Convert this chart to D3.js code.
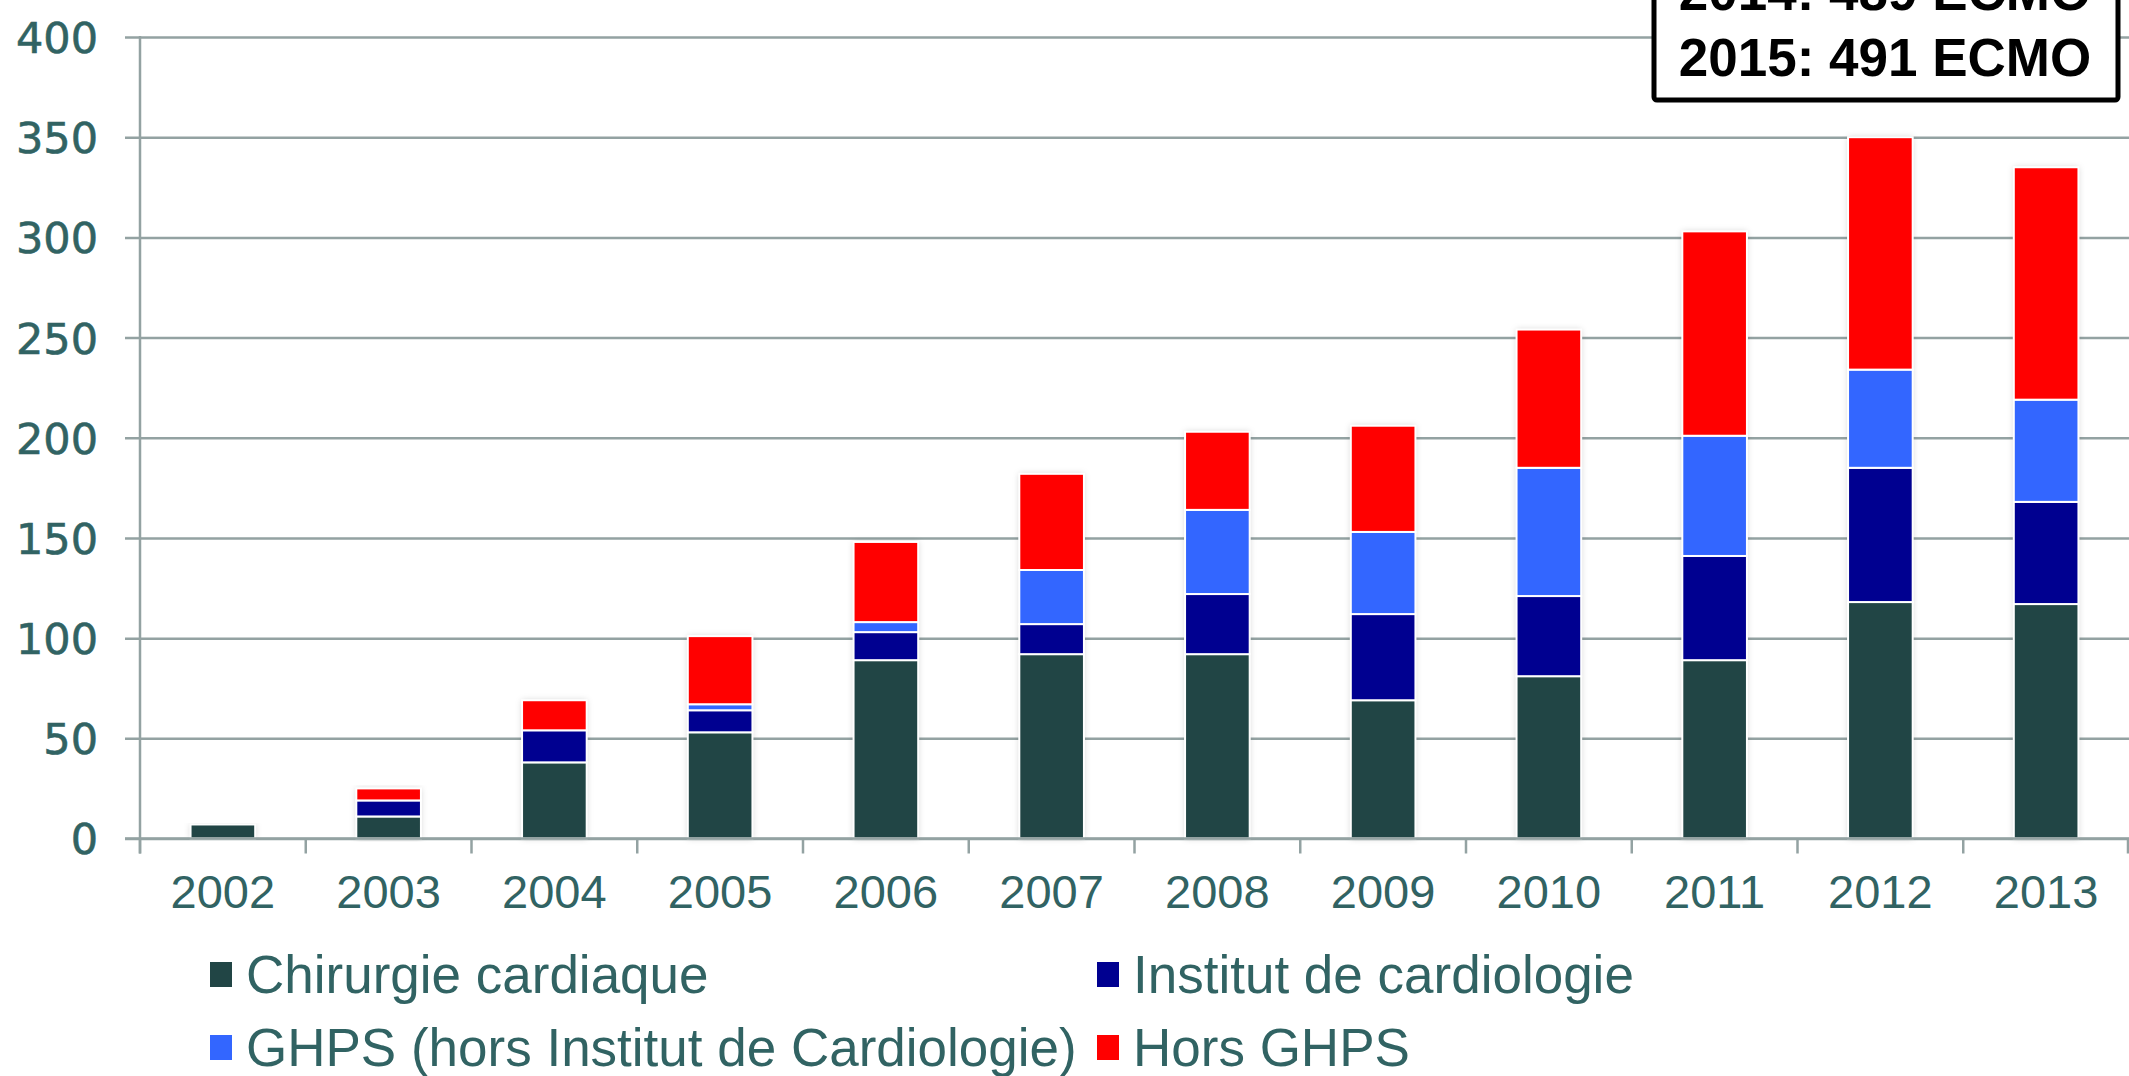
<!DOCTYPE html>
<html>
<head>
<meta charset="utf-8">
<script src="https://cdn.jsdelivr.net/npm/d3@7"></script>
<style>
  html, body { margin: 0; padding: 0; background: #fff; overflow: hidden; }
  svg { display: block; }
</style>
</head>
<body>
<svg id="chart" width="2129" height="1076"></svg>
<script>
// ---- data ----
const years = ["2002","2003","2004","2005","2006","2007","2008","2009","2010","2011","2012","2013"];
const chirurgie = [7, 11, 38, 53, 89, 92, 92, 69, 81, 89, 118, 117];
const institut  = [0, 8, 16, 11, 14, 15, 30, 43, 40, 52, 67, 51];
const ghps      = [0, 0, 0, 3, 5, 27, 42, 41, 64, 60, 49, 51];
const horsGhps  = [0, 6, 15, 34, 40, 48, 39, 53, 69, 102, 116, 116];
const seriesNames = ["Chirurgie cardiaque", "Institut de cardiologie", "GHPS (hors Institut de Cardiologie)", "Hors GHPS"];
const seriesColors = ["#214545", "#000090", "#3366ff", "#ff0000"];
const yTicks = [0, 50, 100, 150, 200, 250, 300, 350, 400];
const boxLines = ["2014: 489 ECMO", "2015: 491 ECMO"];

(function () {
// ---- layout ----
const svg = d3.select("#chart");
const mLeft = 140, mRight = 2129, mTop = 37, mBottom = 838.5;
const textColor = "#316363";
const gridColor = "#93a2a2";

const x = d3.scaleBand().domain(years).range([mLeft, mRight]).paddingInner(0.61).paddingOuter(0.305);
const xb = d3.scaleBand().domain(years).range([mLeft, mRight]).padding(0);
const y = d3.scaleLinear().domain([0, 400]).range([mBottom, mTop]);

const defs = svg.append("defs");
const f = defs.append("filter").attr("id", "shadow").attr("x", "-20%").attr("y", "-5%").attr("width", "140%").attr("height", "110%");
f.append("feDropShadow").attr("dx", 0).attr("dy", 0).attr("stdDeviation", 3).attr("flood-color", "#000").attr("flood-opacity", 0.18);

// gridlines + y axis
const yAxis = d3.axisLeft(y).tickValues(yTicks).tickSize(-(mRight - mLeft)).tickPadding(0).tickFormat(d3.format("d"));
const gy = svg.append("g").attr("transform", `translate(${mLeft},0)`).call(yAxis);
gy.select(".domain").remove();
gy.selectAll(".tick line").attr("x1", -15).attr("stroke", gridColor).attr("stroke-width", 2.5);
gy.selectAll(".tick text")
  .attr("x", -42).attr("dy", "0.36em")
  .attr("fill", textColor)
  .style("font-family", "'DejaVu Sans', Verdana, sans-serif")
  .style("font-size", "43px")
  .style("font-weight", "500")
  .attr("stroke", textColor).attr("stroke-width", 0.6);

// vertical axis line
svg.append("line").attr("x1", mLeft).attr("x2", mLeft).attr("y1", mTop - 1).attr("y2", mBottom + 15)
  .attr("stroke", gridColor).attr("stroke-width", 2.5);

// x axis
const xAxis = d3.axisBottom(xb).tickSize(0).tickPadding(0);
const gx = svg.append("g").attr("transform", `translate(0,${mBottom})`).call(xAxis);
gx.select(".domain").remove();
gx.selectAll(".tick text")
  .attr("y", 57).attr("dy", 0)
  .attr("fill", textColor)
  .style("font-family", "'Liberation Sans', Arial, sans-serif")
  .style("font-size", "47px")
  .attr("dominant-baseline", "middle");
// ticks at band boundaries
const bounds = years.map(d => xb(d)).concat([mRight - 1]);
svg.append("g").selectAll("line").data(bounds).join("line")
  .attr("x1", d => d).attr("x2", d => d)
  .attr("y1", mBottom).attr("y2", mBottom + 15)
  .attr("stroke", gridColor).attr("stroke-width", 2.5);

// stacked bars
const rows = years.map((yr, i) => ({ year: yr, s0: chirurgie[i], s1: institut[i], s2: ghps[i], s3: horsGhps[i] }));
const stack = d3.stack().keys(["s0", "s1", "s2", "s3"]);
const stacked = stack(rows);

// shadow backdrop per bar
svg.append("g").selectAll("rect").data(rows).join("rect")
  .attr("x", d => x(d.year)).attr("width", x.bandwidth())
  .attr("y", d => y(d.s0 + d.s1 + d.s2 + d.s3)).attr("height", d => y(0) - y(d.s0 + d.s1 + d.s2 + d.s3))
  .attr("fill", "#fff").attr("filter", "url(#shadow)");

svg.append("g").selectAll("g").data(stacked).join("g")
  .attr("fill", (d, i) => seriesColors[i])
  .selectAll("rect").data(d => d.filter(p => p[1] - p[0] > 0)).join("rect")
  .attr("x", d => x(d.data.year))
  .attr("width", x.bandwidth())
  .attr("y", d => y(d[1]))
  .attr("height", d => y(d[0]) - y(d[1]))
  .attr("stroke", "#fff").attr("stroke-width", 2);

// x axis baseline on top
svg.append("line").attr("x1", mLeft - 15).attr("x2", mRight).attr("y1", mBottom).attr("y2", mBottom)
  .attr("stroke", gridColor).attr("stroke-width", 2.5);

// legend
const legendPos = [[210, 974], [1097, 974], [210, 1047], [1097, 1047]];
const lg = svg.append("g").selectAll("g").data(seriesNames).join("g")
  .attr("transform", (d, i) => `translate(${legendPos[i][0]},${legendPos[i][1]})`);
lg.append("rect").attr("x", 0).attr("y", -12).attr("width", 22).attr("height", 25)
  .attr("fill", (d, i) => seriesColors[i]);
lg.append("text").attr("x", 36).attr("y", 0).attr("dy", "0.35em")
  .attr("fill", textColor)
  .style("font-family", "'Liberation Sans', Arial, sans-serif")
  .style("font-size", "53px")
  .text(d => d);

// annotation box (clipped at the top edge, as in the original)
const box = svg.append("g");
box.append("rect").attr("x", 1654).attr("y", -20).attr("width", 464).attr("height", 120)
  .attr("rx", 3).attr("fill", "#fff").attr("stroke", "#000").attr("stroke-width", 5);
box.selectAll("text").data(boxLines).join("text")
  .attr("x", 1885).attr("y", (d, i) => 10 + i * 66)
  .attr("text-anchor", "middle")
  .attr("fill", "#000")
  .style("font-family", "'Liberation Sans', Arial, sans-serif")
  .style("font-weight", "bold")
  .style("font-size", "53px")
  .text(d => d);
})();
</script>
</body>
</html>
